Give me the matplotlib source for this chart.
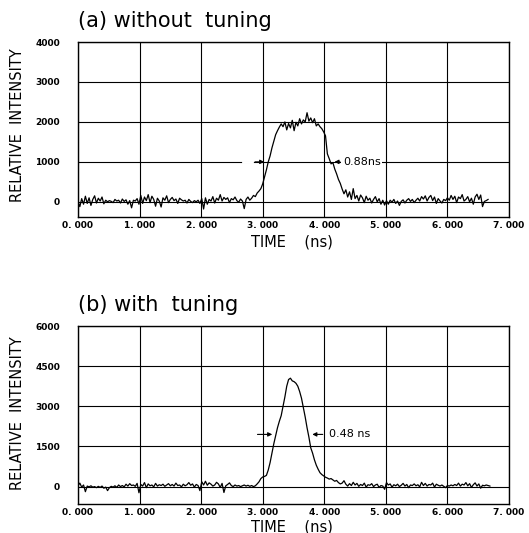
import matplotlib
matplotlib.use("Agg")
import matplotlib.pyplot as plt
import numpy as np

# --- Data (sample step DT ns) ---
DT = 0.03

trace_a = [
    # 0 - 1 ns
    0, -120, 80, -60, 140, -40, 100, -90, 60, 150,
    -30, 90, 20, 120, -50, 40, 0, 30, 10, -20,
    60, 20, 40, -30, 70, 10, 50, -60, 30, -150,
    40, 20, 80,
    # 1 - 2 ns
    -60, 160, -40, 120, 30, 180, -20, 140, 60, -110,
    90, 20, -130, 100, 40, 150, -20, 60, 110, 30,
    70, -40, 90, 50, 20, 40, -30, 60, 10, -20,
    30, 0, 40,
    # 2 - 3 ns
    -40, 80, -180, 100, -60, 60, 20, 130, -30, 90,
    40, 180, 20, 110, 60, 100, -20, 80, 50, 120,
    30, -10, 70, 20, -170, 60, 120, 40, 90, 160,
    130, 220, 270,
    # 3 - 4 ns
    330, 450, 620, 800, 1000, 1150, 1350, 1520, 1680, 1780,
    1870, 1950, 1880, 2000, 1800, 1960, 1850, 2040, 1780, 1990,
    1900, 2080, 1950, 2050, 2000, 2230, 2020, 2100, 1980, 2080,
    1900, 1950, 1880, 1830,
    # 4 - 5 ns
    1750, 1650, 1200, 1080, 950, 980, 820, 700, 560, 460,
    320, 200, 300, 120, 250, 60, 330, 80, 160, 20,
    170, 100, -20, 140, 40, 90, -30, 60, 130, 0,
    80, -60, 40,
    # 5 - 6 ns
    -80, 30, -60, 40, -10, 60, -40, 20, -90, 10,
    50, -30, 40, 80, 10, 60, -20, 40, 90, 20,
    130, 70, 150, 20, 110, 160, 30, 120, -40, 80,
    20, -30, 60,
    # 6 - 6.7 ns
    30, 100, 40, 160, 60, 140, -20, 120, 80, 180,
    20, 60, 130, 0, 90, -60, 120, 190, 60, 170,
    -120, 10, 30, 60,
]

trace_b = [
    # 0 - 1 ns
    40, 130, -20, 60, -190, 20, -10, 30, -20, 0,
    -40, 10, -30, 20, -60, -20, -150, -40, 10, -20,
    30, -30, 60, 0, 40, -10, 90, 20, 110, 40,
    60, 10, 120,
    # 1 - 2 ns
    -230, 80, 20, 150, -40, 100, 30, 60, -10, 120,
    20, 70, 40, 90, 10, 60, 110, 30, 80, 20,
    130, 40, 60, -10, 90, 30, 70, 150, 50, 100,
    -20, 80, 40,
    # 2 - 3 ns
    -150, 180, 60, 200, 50, 140, 90, 20, 60, 160,
    100, -30, 120, -220, 30, 80, 140, 40, 0, 60,
    20, 40, 0, 30, 60, 20, 50, 10, 40, 0,
    30, 100, 180,
    # 3 - 4 ns
    300, 360, 380, 420, 620, 900, 1250, 1600, 1900, 2200,
    2440, 2650, 3000, 3350, 3750, 4000, 4050, 3950, 3920, 3860,
    3750, 3550, 3300, 2950, 2600, 2200, 1850, 1450, 1250, 1000,
    800, 650, 520, 450,
    # 4 - 5 ns
    400, 350, 320, 280, 300, 250, 200, 230, 150, 100,
    130, 220, 90, 20, 110, 40, 160, 60, 120, 10,
    80, 40, 130, -20, 70, 50, 110, 0, 60, 90,
    -30, 40, 20,
    # 5 - 6 ns
    -100, 150, 60, 100, -20, 70, 30, 90, 0, 50,
    120, 20, 80, -40, 60, 40, 100, 30, 70, -10,
    160, 40, 120, 20, 80, 60, 130, -20, 90, 50,
    20, 60, 10,
    # 6 - 6.7 ns
    -40, 40, 20, 60, 30, 80, 40, 130, 20, 90,
    60, 150, 30, 110, -30, 70, 140, 20, 100, -60,
    50, 30, 60, 40, 20,
]

x_ticks = [0, 1, 2, 3, 4, 5, 6, 7]
x_ticklabels = ['0. 000', '1. 000', '2. 000', '3. 000',
                '4. 000', '5. 000', '6. 000', '7. 000']
y_ticks_a = [0, 1000, 2000, 3000, 4000]
y_ticks_b = [0, 1500, 3000, 4500, 6000]

# FWHM markers (left tip ns, right tip ns, intensity)
fwhm_a = (3.07, 4.12, 1000)
fwhm_b = (3.20, 3.76, 1950)

# --- Figure ---
W, H = 529, 533
fig = plt.figure(figsize=(W / 100, H / 100), dpi=100)
fig.patch.set_facecolor('white')


def px_axes(left, top, right, bottom):
    return fig.add_axes([left / W, 1 - bottom / H, (right - left) / W, (bottom - top) / H])


ax_a = px_axes(78, 42, 509, 217)
ax_b = px_axes(78, 326, 509, 504)

panels = [
    (ax_a, trace_a, y_ticks_a, (-380, 4000)),
    (ax_b, trace_b, y_ticks_b, (-650, 6000)),
]

for ax, trace, yt, ylim in panels:
    t = np.arange(len(trace)) * DT
    ax.plot(t, trace, color='black', lw=0.9, zorder=3)
    ax.set_xlim(0, 7)
    ax.set_ylim(*ylim)
    ax.set_xticks(x_ticks)
    ax.set_xticklabels(x_ticklabels, fontsize=6.5, fontweight='bold')
    ax.set_yticks(yt)
    ax.set_yticklabels([str(v) for v in yt], fontsize=6.5, fontweight='bold')
    ax.tick_params(axis='both', length=0)
    ax.tick_params(axis='y', pad=13)
    ax.tick_params(axis='x', pad=3)
    ax.grid(True, color='black', lw=0.8)
    for s in ax.spines.values():
        s.set_color('black')
        s.set_linewidth(1.0)

arrow_kw = dict(arrowstyle='-|>', color='black', lw=0.8, mutation_scale=6)

# --- FWHM annotation, panel (a) ---
l, r, y = fwhm_a
ax_a.plot([2.68, 2.83], [y, y], color='white', lw=2, zorder=2.5)
ax_a.annotate('', xy=(l, y), xytext=(2.83, y), arrowprops=arrow_kw, zorder=4)
ax_a.annotate('', xy=(r, y), xytext=(4.30, y), arrowprops=arrow_kw, zorder=4)
ax_a.text(4.30, y, '0.88ns', fontsize=8, va='center', ha='left',
          bbox=dict(facecolor='white', edgecolor='none', pad=1), zorder=4)

# --- FWHM annotation, panel (b) ---
l, r, y = fwhm_b
ax_b.annotate('', xy=(l, y), xytext=(2.87, y), arrowprops=arrow_kw, zorder=4)
ax_b.annotate('', xy=(r, y), xytext=(4.02, y), arrowprops=arrow_kw, zorder=4)
ax_b.text(4.07, y, '0.48 ns', fontsize=8, va='center', ha='left', zorder=4)

# --- Titles & axis labels ---
fig.text(78 / W, 1 - 21 / H, '(a) without  tuning', fontsize=15, va='center', ha='left')
fig.text(78 / W, 1 - 305 / H, '(b) with  tuning', fontsize=15, va='center', ha='left')

fig.text(18 / W, 1 - 125 / H, 'RELATIVE  INTENSITY', fontsize=10.5, rotation=90,
         va='center', ha='center')
fig.text(18 / W, 1 - 413 / H, 'RELATIVE  INTENSITY', fontsize=10.5, rotation=90,
         va='center', ha='center')

fig.text(292 / W, 1 - 242 / H, 'TIME    (ns)', fontsize=10.5, va='center', ha='center')
fig.text(292 / W, 1 - 527 / H, 'TIME    (ns)', fontsize=10.5, va='center', ha='center')

fig.savefig('out.png', dpi=100)
